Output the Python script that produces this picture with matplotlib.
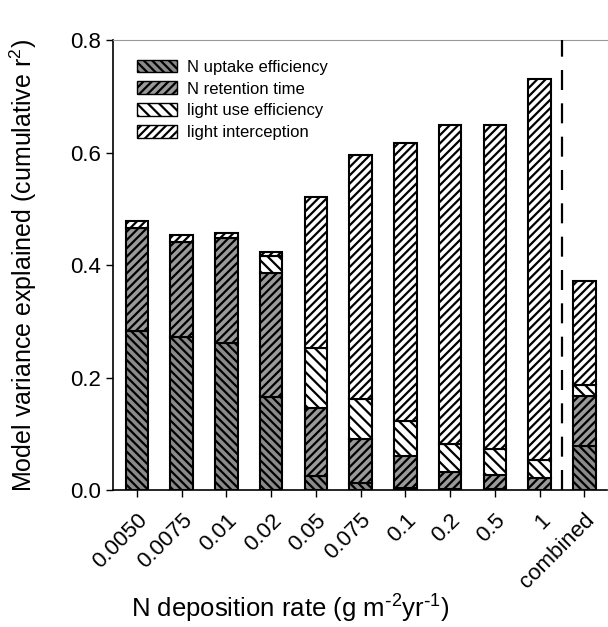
import numpy as np
import matplotlib.pyplot as plt
from matplotlib.patches import Patch

# Categorías del eje x
etiquetas = ['0.0050', '0.0075', '0.01', '0.02', '0.05', '0.075', '0.1', '0.2', '0.5', '1', 'combined']

# Contribución de cada factor (r2 parcial, se apilan)
n_uptake = [0.283, 0.273, 0.261, 0.166, 0.025, 0.013, 0.005, 0.003, 0.002, 0.001, 0.078]
n_retention = [0.183, 0.169, 0.187, 0.221, 0.121, 0.078, 0.056, 0.030, 0.025, 0.020, 0.090]
light_use = [0.000, 0.000, 0.000, 0.030, 0.107, 0.071, 0.062, 0.049, 0.046, 0.033, 0.020]
light_interception = [0.012, 0.012, 0.010, 0.007, 0.269, 0.433, 0.494, 0.567, 0.576, 0.677, 0.184]

nombres = ['N uptake efficiency', 'N retention time', 'light use efficiency', 'light interception']

plt.rcParams['font.family'] = ['Liberation Sans', 'DejaVu Sans']
plt.rcParams['mathtext.default'] = 'regular'
plt.rcParams['hatch.linewidth'] = 1.6

# Estilo de cada capa: relleno y rayado
estilos = [
    dict(facecolor='#8a8a8a', hatch='\\\\\\\\'),
    dict(facecolor='#9a9a9a', hatch='////'),
    dict(facecolor='white', hatch='\\\\\\'),
    dict(facecolor='white', hatch='////'),
]

fig = plt.figure(figsize=(6.08, 6.27), dpi=100)
ax = fig.add_axes([0.186, 0.218, 0.812, 0.718])

x = np.arange(len(etiquetas))
base = np.zeros(len(etiquetas))
for serie, est in zip([n_uptake, n_retention, light_use, light_interception], estilos):
    serie = np.array(serie)
    ax.bar(x, serie, width=0.5, bottom=base, edgecolor='black', linewidth=1.5, **est)
    base = base + serie

# Línea discontinua que separa "combined"
ax.axvline(9.5, color='black', linewidth=1.6, dashes=(9, 6), zorder=5)

ax.set_xlim(-0.53, 10.5)
ax.set_ylim(0, 0.8)
ax.set_yticks([0.0, 0.2, 0.4, 0.6, 0.8])
ax.set_yticklabels(['0.0', '0.2', '0.4', '0.6', '0.8'], fontsize=16)
ax.set_xticks(x)
ax.set_xticklabels(etiquetas, rotation=45, ha='right', rotation_mode='anchor', fontsize=16)
ax.tick_params(direction='out', length=5, width=1)
ax.tick_params(axis='x', pad=9)

ax.spines['top'].set_color('#999999')
ax.spines['top'].set_linewidth(0.8)
ax.spines['right'].set_visible(False)
ax.spines['left'].set_linewidth(1.2)
ax.spines['bottom'].set_linewidth(1.2)

ax.set_ylabel('Model variance explained (cumulative r$^2$)', fontsize=18)
ax.yaxis.set_label_coords(-0.15, 0.5)
ax.set_xlabel('N deposition rate (g m$^{\\text{-}2}$yr$^{\\text{-}1}$)', fontsize=18.5)
ax.xaxis.set_label_coords(0.36, -0.228)

manejadores = [Patch(edgecolor='black', linewidth=1.0, label=n, **est) for n, est in zip(nombres, estilos)]
ax.legend(handles=manejadores, loc='upper left', bbox_to_anchor=(0.018, 0.99), frameon=False,
          fontsize=12, handlelength=2.4, handleheight=0.8, labelspacing=0.4, handletextpad=0.6)

plt.savefig('out.png', dpi=100)
